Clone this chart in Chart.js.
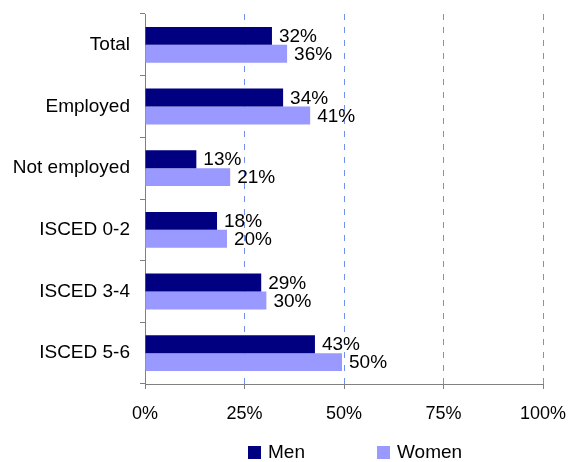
<!DOCTYPE html>
<html>
<head>
<meta charset="utf-8">
<script src="https://cdn.jsdelivr.net/npm/chart.js@4/dist/chart.umd.min.js"></script>
<style>
html,body{margin:0;padding:0;background:#fff;}
#wrap{width:571px;height:462px;}
</style>
</head>
<body>
<div id="wrap"><canvas id="c" width="571" height="462"></canvas></div>
<script>
const categories = ["Total", "Employed", "Not employed", "ISCED 0-2", "ISCED 3-4", "ISCED 5-6"];
const menValues = [31.9, 34.7, 12.9, 18.1, 29.2, 42.7];
const womenValues = [35.7, 41.5, 21.4, 20.6, 30.5, 49.5];
const menLabels = ["32%", "34%", "13%", "18%", "29%", "43%"];
const womenLabels = ["36%", "41%", "21%", "20%", "30%", "50%"];
const xTicks = [0, 25, 50, 75, 100];

const FONT = "'Liberation Sans', Arial, sans-serif";

const valueLabels = {
  id: 'valueLabels',
  afterDatasetsDraw(chart) {
    const ctx = chart.ctx;
    const lbls = [menLabels, womenLabels];
    ctx.save();
    ctx.font = "19px " + FONT;
    ctx.fillStyle = "#000";
    ctx.textAlign = "left";
    ctx.textBaseline = "middle";
    chart.data.datasets.forEach((ds, i) => {
      chart.getDatasetMeta(i).data.forEach((bar, j) => {
        ctx.fillText(lbls[i][j], bar.x + 7, bar.y + 1);
      });
    });
    ctx.restore();
  }
};

const customLegend = {
  id: 'customLegend',
  afterDraw(chart) {
    const ctx = chart.ctx;
    const xs = [248, 377];
    const y = 446;
    ctx.save();
    ctx.font = "19px " + FONT;
    ctx.textBaseline = "middle";
    ctx.textAlign = "left";
    chart.data.datasets.forEach((ds, i) => {
      ctx.fillStyle = ds.backgroundColor;
      ctx.fillRect(xs[i], y, 13, 13);
      ctx.fillStyle = "#000";
      ctx.fillText(ds.label, xs[i] + 20, y + 7);
    });
    ctx.restore();
  }
};

new Chart(document.getElementById('c'), {
  type: 'bar',
  data: {
    labels: categories,
    datasets: [
      { label: "Men", data: menValues, backgroundColor: "#000080", categoryPercentage: 0.58, barPercentage: 1.0 },
      { label: "Women", data: womenValues, backgroundColor: "#9999FF", categoryPercentage: 0.58, barPercentage: 1.0 }
    ]
  },
  options: {
    indexAxis: 'y',
    responsive: false,
    animation: false,
    devicePixelRatio: 1,
    layout: { padding: { top: 14, right: 28, left: 0, bottom: 38 } },
    plugins: {
      legend: { display: false },
      tooltip: { enabled: false }
    },
    scales: {
      x: {
        min: 0, max: 100,
        afterBuildTicks: (s) => { s.ticks = xTicks.map(v => ({ value: v })); },
        afterFit: (s) => { s.height = 40; s.paddingLeft = 0; s.paddingRight = 0; },
        ticks: {
          callback: (v) => v + "%",
          font: { family: FONT, size: 18 },
          color: "#000",
          padding: 14,
          maxRotation: 0
        },
        grid: {
          color: (c) => c.index === 0 ? 'rgba(0,0,0,0)' : '#7092ee',
          lineWidth: 1,
          tickColor: '#808080',
          tickLength: 5,
          drawTicks: true
        },
        border: { display: true, color: '#808080', width: 1, dash: [6, 7] }
      },
      y: {
        afterFit: (s) => { s.width = 145; s.paddingTop = 0; s.paddingBottom = 0; },
        ticks: {
          font: { family: FONT, size: 19 },
          color: "#000",
          padding: 10
        },
        grid: {
          drawOnChartArea: false,
          tickColor: '#808080',
          tickLength: 5,
          offset: true
        },
        border: { display: true, color: '#808080', width: 1 }
      }
    }
  },
  plugins: [valueLabels, customLegend]
});
</script>
</body>
</html>
